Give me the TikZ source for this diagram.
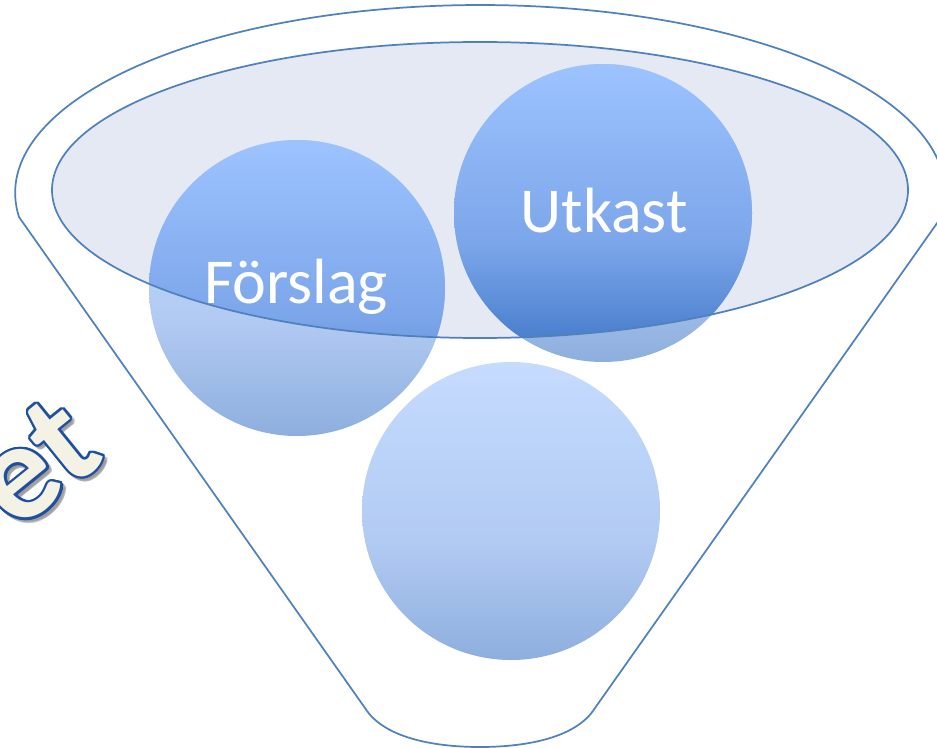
\documentclass[tikz,border=0pt]{standalone}
\usepackage{fontspec}
\setmainfont{Carlito}
\usepackage{contour}
\contourlength{1.8pt}
\contournumber{16}
\usepackage{tikz}

\definecolor{funnelblue}{RGB}{79,129,189}
\definecolor{rimfill}{RGB}{229,233,243}
\definecolor{bubbleTop}{RGB}{157,195,255}
\definecolor{bubbleMid}{RGB}{124,166,234}
\definecolor{bubbleBot}{RGB}{62,118,198}
\definecolor{etblue}{RGB}{30,80,160}
\definecolor{etcream}{RGB}{244,241,229}

\pgfdeclareverticalshading{bubble}{100bp}{color(0bp)=(bubbleBot); color(25bp)=(bubbleBot); color(45bp)=(bubbleMid); color(75bp)=(bubbleTop); color(100bp)=(bubbleTop)}

\tikzset{
  funnel line/.style={draw=funnelblue, line width=1.3pt},
  bubble fill/.style={shading=bubble},
  bubble text/.style={inner sep=0pt, text=white, font=\fontsize{48}{56}\selectfont},
  et text/.style={inner sep=0pt, rotate=39, font=\fontsize{104}{120}\selectfont\bfseries}
}

\begin{document}
\begin{tikzpicture}[x=0.75pt,y=0.75pt,yscale=-1,xscale=1]
\useasboundingbox (0,0) rectangle (937,748);

%Shape: Ellipse [rim fill]
\fill [rimfill] (480,190) ellipse [x radius=428, y radius=148];

%Shape: Circle [faded parts, below the rim]
\path [bubble fill, fill opacity=0.59] (297,288) circle [radius=148];
\path [bubble fill, fill opacity=0.59] (603,213) circle [radius=149];
\path [bubble fill, fill opacity=0.59] (511,511) circle [radius=149];

%Shape: Circle [parts inside the rim]
\begin{scope}
\clip (480,190) ellipse [x radius=428, y radius=148];
\path [bubble fill] (297,288) circle [radius=148];
\path [bubble fill] (603,213) circle [radius=149];
\end{scope}

%Shape: Ellipse [rim line]
\draw [funnel line] (480,190) ellipse [x radius=428, y radius=148];

%Shape: Funnel
\draw [funnel line] (19,217) arc [start angle=172.67, end angle=367.33, x radius=465, y radius=188]
  -- (595,708) .. controls (575,740) and (520,747) .. (480,747)
  .. controls (440,747) and (385,740) .. (365,708) -- cycle ;

% Text Node
\node [bubble text, anchor=base] (forslag) at (296,303) {Förslag};
% Text Node
\node [bubble text, anchor=base] (utkast) at (604,233) {Utkast};

% Text Node [shadow]
\node [et text, anchor=base east, opacity=0.3] (etshadow) at (111,462) {\contour{black!40}{\textcolor{black!40}{et}}};
% Text Node
\node [et text, anchor=base east] (etword) at (108,459) {\contour{etblue}{\textcolor{etcream}{et}}};
\end{tikzpicture}
\end{document}
